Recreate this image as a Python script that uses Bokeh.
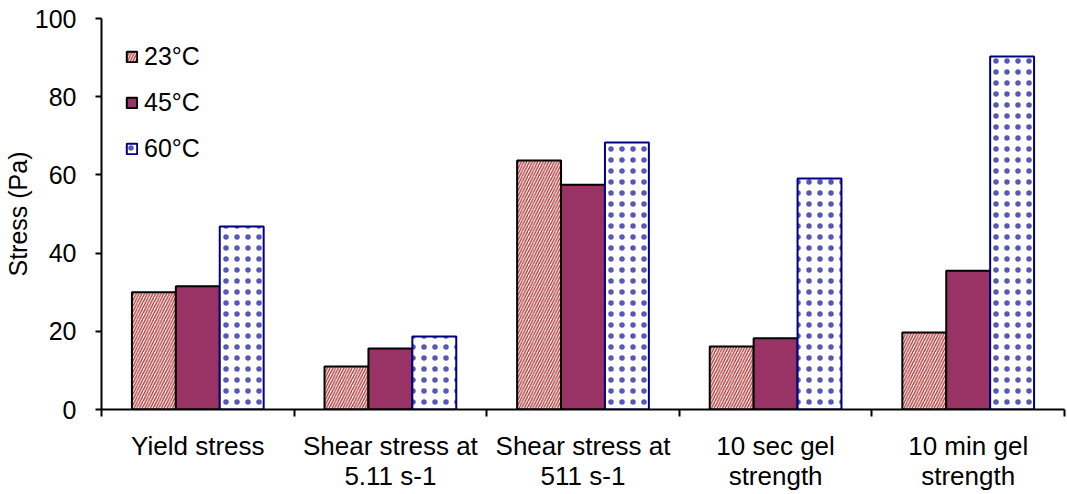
from bokeh.plotting import figure
from bokeh.models import (Range1d, FixedTicker, ColumnDataSource)
from bokeh.embed import file_html
from bokeh.resources import INLINE

categories = ["Yield stress", "Shear stress at\n5.11 s-1", "Shear stress at\n511 s-1",
              "10 sec gel\nstrength", "10 min gel\nstrength"]
series_names = ["23°C", "45°C", "60°C"]
v23 = [30.0, 11.0, 63.7, 16.1, 19.7]
v45 = [31.5, 15.6, 57.5, 18.2, 35.5]
v60 = [46.8, 18.7, 68.3, 59.1, 90.3]
y_ticks = [0, 20, 40, 60, 80, 100]

FONT = "Liberation Sans"
n = len(categories)
centers = [i + 0.5 for i in range(n)]
bw = 0.228
src = ColumnDataSource(dict(
    x23=[c - bw for c in centers], x45=centers, x60=[c + bw for c in centers],
    v23=v23, v45=v45, v60=v60))

p = figure(width=1067, height=494, output_backend="svg", toolbar_location=None,
           x_range=Range1d(0, n), y_range=Range1d(0, 100),
           min_border_left=101, min_border_top=18,
           min_border_bottom=85, min_border_right=3)
p.outline_line_color = None
p.grid.visible = False
p.background_fill_color = "white"
p.border_fill_color = "white"

p.vbar(x="x23", top="v23", width=bw, source=src,
       fill_color="white", line_color="black", line_width=2,
       hatch_pattern="right_diagonal_line", hatch_color="#b03c3c", hatch_scale=5.5,
       hatch_weight=1.4, legend_label=series_names[0])
p.vbar(x="x45", top="v45", width=bw, source=src,
       fill_color="#993366", line_color="black", line_width=2,
       legend_label=series_names[1])
p.vbar(x="x60", top="v60", width=bw, source=src,
       fill_color="white", line_color="#000080", line_width=2,
       hatch_pattern="dot", hatch_color="#3a3aa8", hatch_scale=11,
       hatch_weight=0.5, hatch_alpha=0.85, legend_label=series_names[2])

# y axis
ya = p.yaxis[0]
ya.ticker = FixedTicker(ticks=y_ticks)
ya.axis_label = "Stress (Pa)"
ya.axis_label_text_font = FONT
ya.axis_label_text_font_style = "normal"
ya.axis_label_text_font_size = "25px"
ya.axis_label_text_color = "black"
ya.axis_label_standoff = 0
ya.major_label_text_font = FONT
ya.major_label_text_font_size = "25px"
ya.major_label_text_color = "black"
ya.major_label_standoff = 19
ya.axis_line_width = 2
ya.axis_line_color = "black"
ya.major_tick_line_width = 2
ya.major_tick_out = 6
ya.major_tick_in = 0
ya.minor_tick_line_color = None

# x axis: labels at category centres, boundary ticks as minor ticks
xa = p.xaxis[0]
xa.ticker = FixedTicker(ticks=centers, minor_ticks=list(range(n + 1)))
xa.major_label_overrides = {c: lab for c, lab in zip(centers, categories)}
xa.axis_line_width = 2
xa.axis_line_color = "black"
xa.major_tick_line_color = None
xa.major_tick_out = 7
xa.major_tick_in = 0
xa.minor_tick_line_color = "black"
xa.minor_tick_line_width = 2
xa.minor_tick_out = 7
xa.minor_tick_in = 0
xa.major_label_text_font = FONT
xa.major_label_text_font_size = "26px"
xa.major_label_text_line_height = 1.0
xa.major_label_text_color = "black"
xa.major_label_standoff = 14

lg = p.legend[0]
lg.location = "top_left"
lg.border_line_color = None
lg.background_fill_alpha = 0
lg.label_text_font = FONT
lg.label_text_font_size = "25px"
lg.label_text_color = "black"
lg.glyph_width = 13
lg.glyph_height = 13
lg.label_height = 26
lg.spacing = 17
lg.margin = 24
lg.padding = 7
lg.label_standoff = 6

open("out.html", "w").write(file_html(p, INLINE))
